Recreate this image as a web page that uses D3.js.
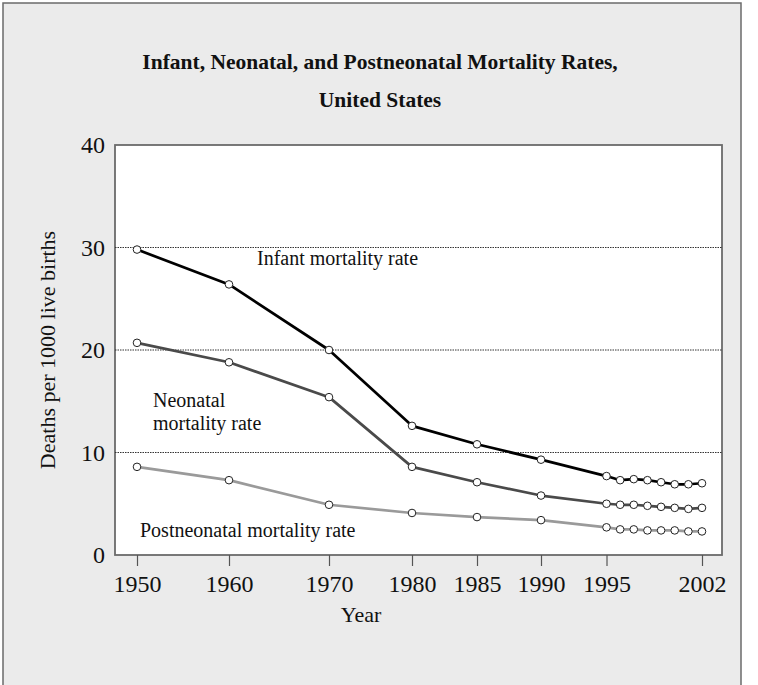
<!DOCTYPE html>
<html>
<head>
<meta charset="utf-8">
<script src="https://cdn.jsdelivr.net/npm/d3@7"></script>
<style>
  body { margin: 0; background: #fff; }
  svg text { font-family: "Liberation Serif", "DejaVu Serif", serif; fill: #111; }
</style>
</head>
<body>
<svg id="chart" width="758" height="685"></svg>
<script>
// values
var years = [1950, 1960, 1970, 1980, 1985, 1990, 1995, 1996, 1997, 1998, 1999, 2000, 2001, 2002];
var infant = [29.8, 26.4, 20.0, 12.6, 10.8, 9.3, 7.7, 7.3, 7.4, 7.3, 7.1, 6.9, 6.9, 7.0];
var neonatal = [20.7, 18.8, 15.4, 8.6, 7.1, 5.8, 5.0, 4.9, 4.9, 4.8, 4.7, 4.6, 4.5, 4.6];
var postneonatal = [8.6, 7.3, 4.9, 4.1, 3.7, 3.4, 2.7, 2.5, 2.5, 2.4, 2.4, 2.4, 2.3, 2.3];
var xTicks = [1950, 1960, 1970, 1980, 1985, 1990, 1995, 2002];
var yTicks = [0, 10, 20, 30, 40];
var gridValues = [10, 20, 30];

var svg = d3.select("#chart");

// grey panel with border on top, left, right
svg.append("rect")
    .attr("x", 3).attr("y", 3)
    .attr("width", 738).attr("height", 700)
    .attr("fill", "#ebebeb")
    .attr("stroke", "#6b6b6b")
    .attr("stroke-width", 1.5);

var plotLeft = 115, plotTop = 145, plotW = 607, plotH = 410;

var g = svg.append("g").attr("transform", "translate(" + plotLeft + "," + plotTop + ")");

// the axis is not evenly spaced: 1950-1980 is squeezed, 1980 on wider
var x = d3.scaleLinear()
    .domain(xTicks)
    .range([22, 114, 214, 297, 362, 426, 491.5, 587]);
var y = d3.scaleLinear().domain([0, 40]).range([plotH, 0]);

g.append("rect")
    .attr("width", plotW).attr("height", plotH)
    .attr("fill", "#fff")
    .attr("stroke", "#6b6b6b")
    .attr("stroke-width", 1.8);

// dotted gridlines
g.selectAll(".grid")
    .data(gridValues)
    .enter().append("line")
    .attr("class", "grid")
    .attr("x1", 0).attr("x2", plotW)
    .attr("y1", function (d) { return y(d); })
    .attr("y2", function (d) { return y(d); })
    .attr("stroke", "#333")
    .attr("stroke-width", 1)
    .attr("stroke-dasharray", "1.5,1");

// x axis
var xAxis = g.append("g")
    .attr("transform", "translate(0," + plotH + ")")
    .call(d3.axisBottom(x).tickValues(xTicks).tickFormat(d3.format("d")).tickSize(11).tickSizeOuter(0));
xAxis.select(".domain").remove();
xAxis.selectAll("line").attr("stroke", "#555").attr("stroke-width", 1.2);
xAxis.selectAll("text")
    .attr("y", 20).attr("dy", "0.71em")
    .style("font-size", "24px")
    .style("font-family", "Liberation Serif, serif")
    .attr("fill", "#111");

// y axis, labels only
var yAxis = g.append("g")
    .call(d3.axisLeft(y).tickValues(yTicks).tickSize(0).tickPadding(10));
yAxis.select(".domain").remove();
yAxis.selectAll("text")
    .style("font-size", "24px")
    .style("font-family", "Liberation Serif, serif")
    .attr("fill", "#111");

// lines
var series = [
    { values: infant, color: "#000" },
    { values: neonatal, color: "#4a4a4a" },
    { values: postneonatal, color: "#9a9a9a" }
];

var line = d3.line()
    .x(function (d, i) { return x(years[i]); })
    .y(function (d) { return y(d); });

series.forEach(function (s) {
    g.append("path")
        .datum(s.values)
        .attr("d", line)
        .attr("fill", "none")
        .attr("stroke", s.color)
        .attr("stroke-width", 2.7)
        .attr("stroke-linejoin", "round");
});

series.forEach(function (s) {
    g.selectAll(null)
        .data(s.values)
        .enter().append("circle")
        .attr("cx", function (d, i) { return x(years[i]); })
        .attr("cy", function (d) { return y(d); })
        .attr("r", 3.8)
        .attr("fill", "#fff")
        .attr("stroke", "#222")
        .attr("stroke-width", 1);
});

// series labels
g.append("text").attr("x", 142).attr("y", 120).style("font-size", "20px").text("Infant mortality rate");
g.append("text").attr("x", 38).attr("y", 262).style("font-size", "20px").text("Neonatal");
g.append("text").attr("x", 38).attr("y", 285).style("font-size", "20px").text("mortality rate");
g.append("text").attr("x", 25).attr("y", 392).style("font-size", "20px").text("Postneonatal mortality rate");

// titles
svg.append("text")
    .attr("x", 380).attr("y", 69)
    .style("font-size", "21.5px").style("font-weight", "bold")
    .style("text-anchor", "middle")
    .text("Infant, Neonatal, and Postneonatal Mortality Rates,");
svg.append("text")
    .attr("x", 380).attr("y", 107)
    .style("font-size", "21.5px").style("font-weight", "bold")
    .style("text-anchor", "middle")
    .text("United States");

svg.append("text")
    .attr("x", 361).attr("y", 622)
    .style("font-size", "22px")
    .style("text-anchor", "middle")
    .text("Year");

svg.append("text")
    .attr("transform", "translate(47,350)rotate(-90)")
    .attr("dy", "0.35em")
    .style("font-size", "22px")
    .style("text-anchor", "middle")
    .text("Deaths per 1000 live births");
</script>
</body>
</html>
